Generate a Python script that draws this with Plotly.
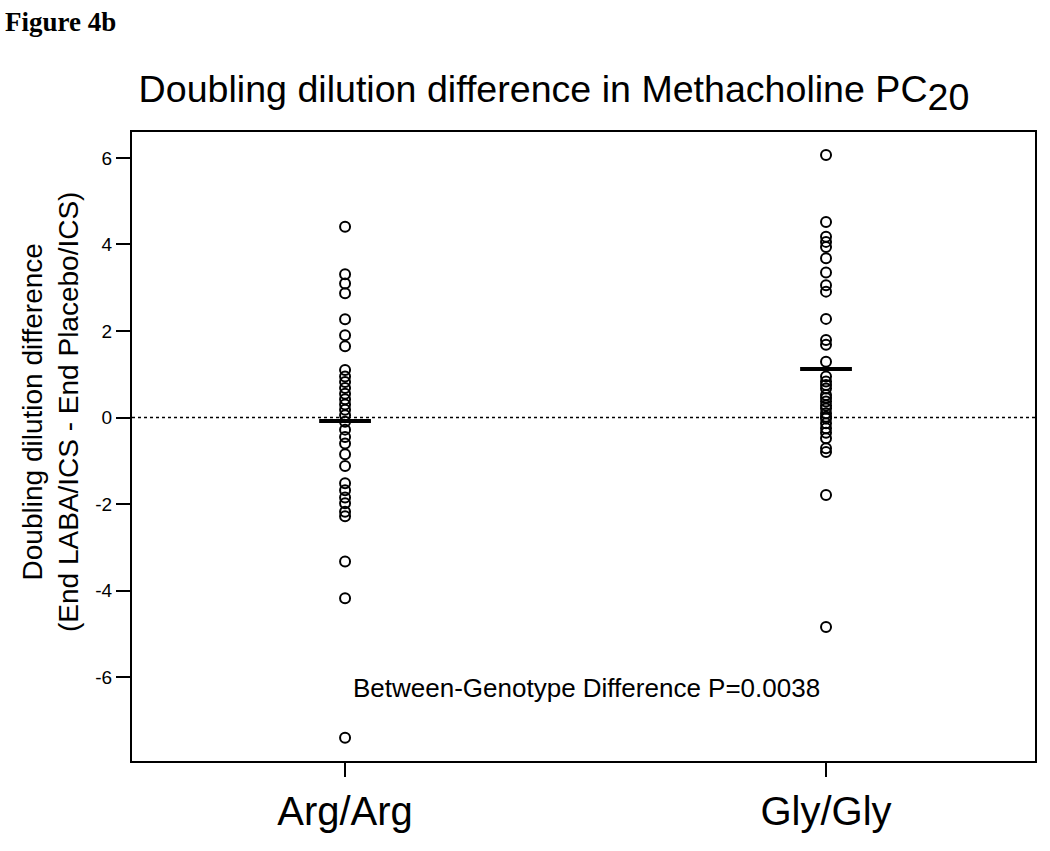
import plotly.graph_objects as go

# ---- data ----
genotypes = ["Arg/Arg", "Gly/Gly"]

arg_arg_values = [4.41, 3.31, 3.10, 2.87, 2.27, 1.90, 1.65,
                  1.10, 0.95, 0.82, 0.68, 0.55, 0.42, 0.30, 0.18, 0.05,
                  -0.10, -0.28, -0.45, -0.60, -0.85, -1.12,
                  -1.52, -1.68, -1.85, -1.98, -2.18, -2.28,
                  -3.33, -4.18, -7.40]

gly_gly_values = [6.07, 4.52, 4.18, 4.06, 3.94, 3.68, 3.35, 3.06, 2.91,
                  2.28, 1.79, 1.68, 1.29, 0.95,
                  0.83, 0.75, 0.67, 0.52, 0.45, 0.37, 0.28, 0.21, 0.10, 0.02,
                  -0.02, -0.13, -0.25, -0.35, -0.48, -0.71, -0.80,
                  -1.79, -4.84]

group_means = [-0.08, 1.12]

y_tick_values = [-6, -4, -2, 0, 2, 4, 6]
y_tick_labels = ["-6", "-4", "-2", "0", "2", "4", "6"]
reference_y = 0

title_text = "Doubling dilution difference in Methacholine PC<sub><span style='font-size:37.6px'>20</span></sub>"
y_title_text = "Doubling dilution difference<br>(End LABA/ICS - End Placebo/ICS)"
p_value_text = "Between-Genotype Difference P=0.0038"
figure_label = "<b>Figure 4b</b>"

FONT = "Liberation Sans, Arial, sans-serif"

fig = go.Figure()

for name, vals in zip(genotypes, [arg_arg_values, gly_gly_values]):
    fig.add_trace(go.Scatter(
        x=[name] * len(vals), y=vals, mode="markers",
        marker=dict(symbol="circle-open", size=10, color="black",
                    line=dict(width=2, color="black")),
        showlegend=False, hoverinfo="y"))

fig.add_trace(go.Scatter(
    x=genotypes, y=group_means, mode="markers",
    marker=dict(symbol="line-ew-open", size=37, color="black",
                line=dict(width=4, color="black")),
    showlegend=False, hoverinfo="y"))

fig.add_shape(type="line", xref="paper", x0=0, x1=1, yref="y",
              y0=reference_y, y1=reference_y,
              line=dict(color="black", width=1.5, dash="dot"), layer="below")

fig.update_layout(
    width=1050, height=851,
    margin=dict(l=132, r=15, t=132, b=90),
    paper_bgcolor="white", plot_bgcolor="white",
    font=dict(family=FONT, color="black"),
    title=dict(text=title_text, x=554 / 1050, xanchor="center",
               y=1 - 89 / 851, yanchor="middle", yref="container",
               font=dict(size=37.6, family=FONT, color="black")),
    xaxis=dict(type="category", categoryorder="array", categoryarray=genotypes,
               range=[-0.443, 1.4345], showgrid=False, zeroline=False,
               showline=True, linecolor="black", linewidth=2, mirror=True,
               ticks="outside", ticklen=14, tickwidth=2, tickcolor="black",
               tickfont=dict(size=40, family=FONT, color="black")),
    yaxis=dict(range=[-7.94, 6.60], tickvals=y_tick_values, ticktext=y_tick_labels,
               showgrid=False, zeroline=False,
               showline=True, linecolor="black", linewidth=2, mirror=True,
               ticks="outside", ticklen=14, tickwidth=2, tickcolor="black",
               tickfont=dict(size=19, family=FONT, color="black")),
    annotations=[
        dict(text=y_title_text, xref="paper", yref="paper",
             x=(50 - 132) / 903, y=(761 - 412) / 629, textangle=-90,
             xanchor="center", yanchor="middle", showarrow=False,
             font=dict(size=28, family=FONT, color="black")),
        dict(text=p_value_text, xref="paper", yref="paper",
             x=(586 - 132) / 903, y=(761 - 688) / 629,
             xanchor="center", yanchor="middle", showarrow=False,
             font=dict(size=26, family=FONT, color="black")),
        dict(text=figure_label, xref="paper", yref="paper",
             x=(3 - 132) / 903, y=(761 - 22) / 629,
             xanchor="left", yanchor="middle", showarrow=False,
             font=dict(size=27, family="Liberation Serif, Times New Roman, serif",
                       color="black")),
    ],
)

fig.write_html("out.html", config={"displayModeBar": False},
               post_script="document.body.style.margin='0px';document.body.style.overflow='hidden';")
